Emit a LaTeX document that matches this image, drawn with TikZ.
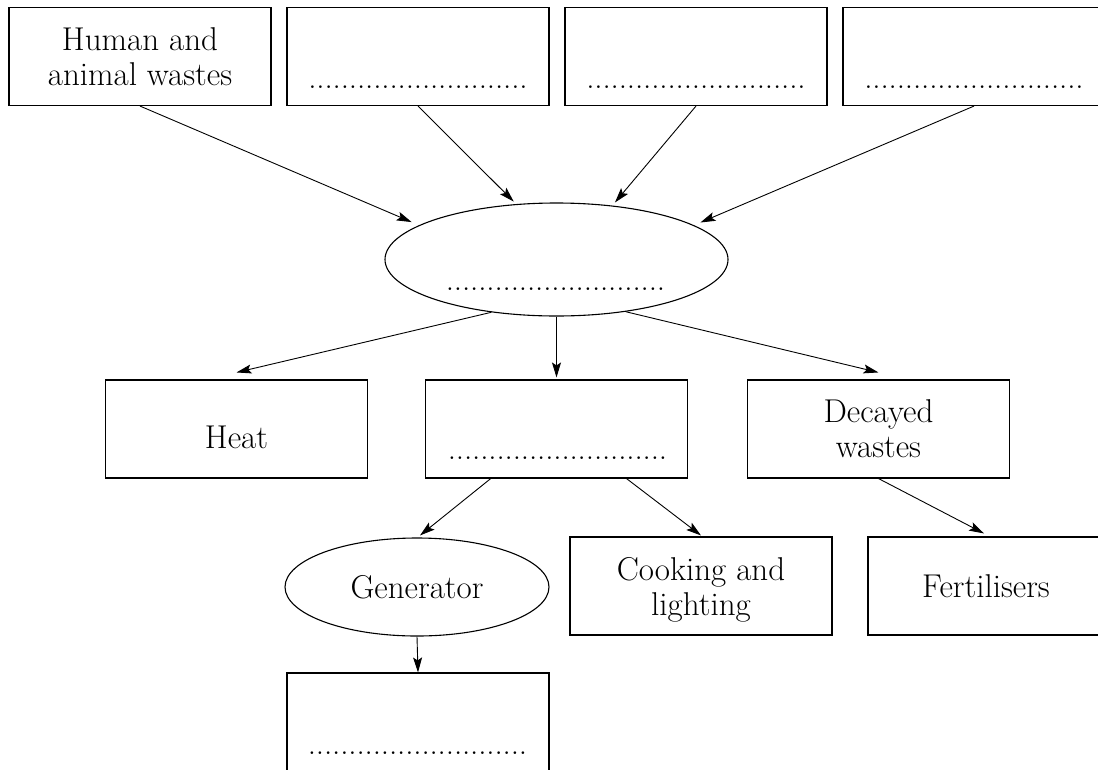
\documentclass[tikz,border=0pt]{standalone}
\usetikzlibrary{shapes.geometric,arrows.meta,calc}
\newcommand\dt{\makebox[8.12pt]{.}}
\newcommand\dotrow{\dt\dt\dt\dt\dt\dt\dt\dt\dt\dt\dt\dt\dt\dt\dt\dt\dt\dt\dt\dt\dt\dt\dt\dt\dt\dt\dt}
\begin{document}
\begin{tikzpicture}[x=1pt,y=-1pt,
  txt/.style={font=\fontsize{33}{35}\selectfont, align=center, text depth=0pt},
  box/.style={draw, line width=1.1pt, minimum width=262pt, minimum height=98pt, inner sep=0pt, txt},
  oval/.style={draw, ellipse, line width=1.1pt, inner sep=0pt, txt},
  dotsl/.style={font=\fontsize{33}{35}\selectfont, anchor=base, inner sep=0pt},
  arr/.style={-{Stealth[length=15pt,width=9pt,inset=3pt]}, line width=0.9pt},
]
\clip (0,0) rectangle (1098,769);
\fill[white] (0,0) rectangle (1098,769);

% top row
\node[box] (src1) at (140,56.5) {Human and\\animal wastes};
\node[box] (src2) at (418,56.5) {};
\node[box] (src3) at (696,56.5) {};
\node[box] (src4) at (974,56.5) {};
\node[dotsl] (d2) at (418,88) {\dotrow};
\node[dotsl] (d3) at (696,88) {\dotrow};
\node[dotsl] (d4) at (974,88) {\dotrow};

% central ellipse
\node[oval, minimum width=343pt, minimum height=113pt] (ell) at (556.5,259.5) {};
\node[dotsl] (de) at (555.5,290) {\dotrow};

% middle row
\node[box] (heat) at (236.5,429) {};
\node[txt, anchor=base, inner sep=0pt] (heatt) at (236.5,448) {Heat};
\node[box] (mid) at (556.5,429) {};
\node[dotsl] (dm) at (557.5,459) {\dotrow};
\node[box] (dec) at (878.5,429) {Decayed\\wastes};

% lower row
\node[oval, minimum width=264pt, minimum height=98pt] (gen) at (417,587) {Generator};
\node[box] (cook) at (701,586) {Cooking and\\lighting};
\node[box] (fert) at (999,586) {};
\node[txt, inner sep=0pt] (fertt) at (986,586) {Fertilisers};
\node[box] (out) at (418,722) {};
\node[dotsl] (dout) at (417.5,754) {\dotrow};

% connectors
\draw[arr, shorten >=8pt] (src1.south) -- (ell.166);
\draw[arr, shorten >=3.5pt] (src2.south) -- (ell.126);
\draw[arr, shorten >=4pt] (src3.south) -- (ell.44);
\draw[arr, shorten >=7pt] (src4.south) -- (ell.14.5);
\draw[arr] (ell.219) -- ([yshift=7pt]heat.north);
\draw[arr] (ell.south) -- ([yshift=2pt]mid.north);
\draw[arr] (ell.323) -- ([yshift=7pt]dec.north);
\draw[arr] ($(mid.south west)!0.25!(mid.south east)$) -- ([xshift=3pt,yshift=2pt]gen.north);
\draw[arr] ($(mid.south west)!0.766!(mid.south east)$) -- ([yshift=1pt]cook.north);
\draw[arr] (dec.south) -- ([xshift=-15pt,yshift=3pt]fert.north);
\draw[arr] (gen.south) -- (out.north);
\end{tikzpicture}
\end{document}
